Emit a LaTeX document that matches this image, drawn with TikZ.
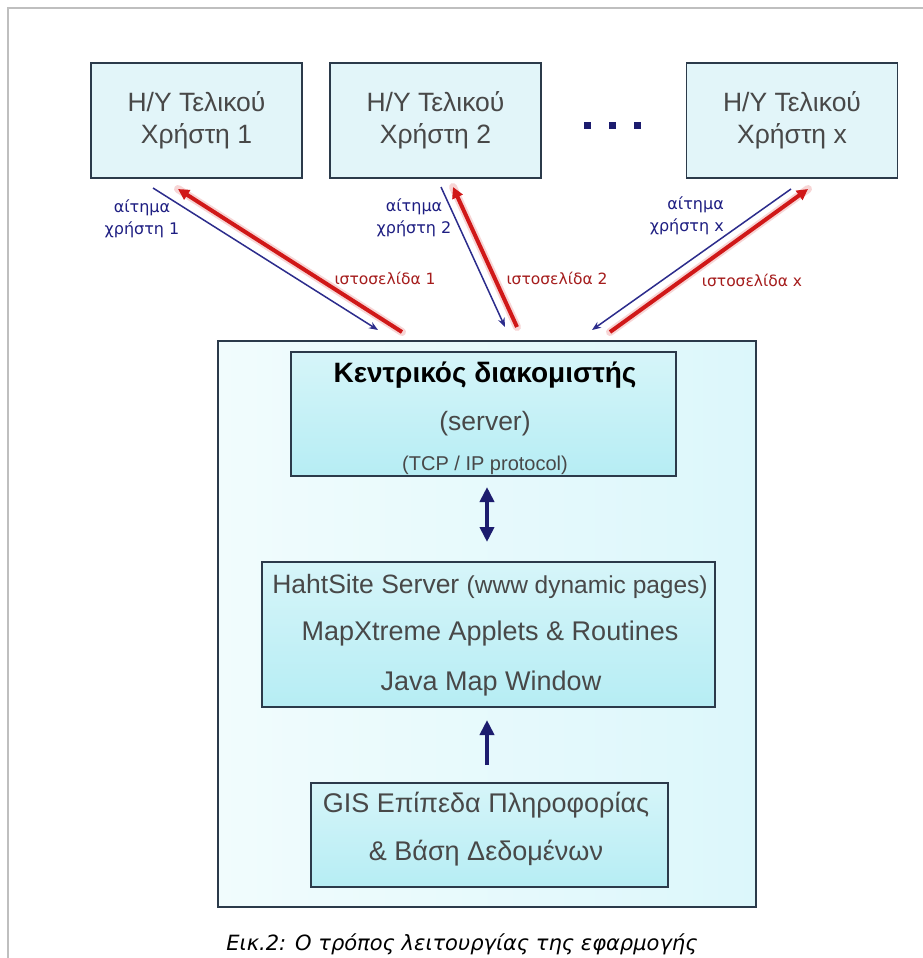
\documentclass[tikz,border=0pt]{standalone}
\usepackage{fontspec}
\setmainfont{Liberation Sans}
\newfontfamily\lblfont{DejaVu Sans}
\newfontfamily\capfont{DejaVu Sans}
\usetikzlibrary{arrows.meta}
\definecolor{edge}{HTML}{2B3A4A}
\definecolor{userfill}{HTML}{E2F5F9}
\definecolor{innertop}{HTML}{D6F5F9}
\definecolor{innerbot}{HTML}{B6EDF4}
\definecolor{bigleft}{HTML}{F1FCFD}
\definecolor{bigright}{HTML}{DCF7FB}
\definecolor{txtgray}{HTML}{484848}
\definecolor{reqblue}{HTML}{2C2C8C}
\definecolor{respred}{HTML}{D01818}
\definecolor{lblblue}{HTML}{1E1E82}
\definecolor{lblred}{HTML}{A51C1C}
\definecolor{navy}{HTML}{1C1C6E}
\tikzset{
  userbox/.style={draw=edge, line width=1.5pt, fill=userfill, minimum width=211pt,
    minimum height=115pt, inner sep=0pt, align=center, text=txtgray,
    font=\fontsize{26.5}{32}\selectfont},
  innerbox/.style={draw=edge, line width=1.5pt, top color=innertop, bottom color=innerbot,
    inner sep=0pt},
  bigbox/.style={draw=edge, line width=1.5pt, left color=bigleft, right color=bigright,
    inner sep=0pt},
  boxtext/.style={anchor=base, text=txtgray, inner sep=0pt, font=\fontsize{27}{30}\selectfont},
  dotsq/.style={fill=navy, minimum size=7pt, inner sep=0pt},
  reqline/.style={draw=reqblue, line width=1.5pt, -{Stealth[length=9pt,width=7pt]}},
  resphalo/.style={draw=respred!18, line width=8pt, line cap=round},
  respline/.style={draw=respred, line width=4pt, -{Triangle[length=11pt,width=11pt]}},
  reqlabel/.style={text=lblblue, inner sep=0pt, font=\lblfont\fontsize{16}{22}\selectfont},
  resplabel/.style={text=lblred, inner sep=0pt, font=\lblfont\fontsize{15.5}{22}\selectfont},
  bigarrow/.style={draw=navy, line width=4.5pt},
}
\begin{document}
\begin{tikzpicture}[x=1pt,y=-1pt]
\useasboundingbox (0,0) rectangle (923,958);
\fill[white] (0,0) rectangle (923,958);
\draw[black!25, line width=2pt] (8,958) -- (8,8) -- (923,8);

% user boxes
\node[userbox] (u1) at (196.5,120.5) {H/Y Τελικού\\Χρήστη 1};
\node[userbox] (u2) at (435.5,120.5) {H/Y Τελικού\\Χρήστη 2};
\node[userbox] (ux) at (792,120.5) {H/Y Τελικού\\Χρήστη x};
\node[dotsq] (d1) at (587,125) {};
\node[dotsq] (d2) at (612,125) {};
\node[dotsq] (d3) at (637,125) {};

% big box and inner boxes
\node[bigbox, minimum width=538pt, minimum height=566pt] (big) at (487,624) {};
\node[innerbox, minimum width=385pt, minimum height=124pt] (srv) at (483.5,414) {};
\node[innerbox, minimum width=453pt, minimum height=145pt] (hs) at (488.5,634.5) {};
\node[innerbox, minimum width=357pt, minimum height=104pt] (gis) at (489.5,835) {};

% server texts
\node[anchor=base, inner sep=0pt, font=\bfseries\fontsize{28}{30}\selectfont] (srvt1) at (485,382) {Κεντρικός διακομιστής};
\node[boxtext, font=\fontsize{26.5}{30}\selectfont] (srvt2) at (485,430) {(server)};
\node[boxtext, font=\fontsize{20}{24}\selectfont] (srvt3) at (485,470) {(TCP / IP protocol)};

% HahtSite texts
\node[boxtext, font=\fontsize{26.5}{30}\selectfont] (hst1) at (490,593) {HahtSite Server {\fontsize{24.5}{30}\selectfont(www dynamic pages)}};
\node[boxtext] (hst2) at (490,640) {MapXtreme Applets \& Routines};
\node[boxtext] (hst3) at (491,690) {Java Map Window};

% GIS texts
\node[boxtext] (gist1) at (486,812) {GIS Επίπεδα Πληροφορίας};
\node[boxtext] (gist2) at (486,860) {\& Βάση Δεδομένων};

% internal arrows
\coordinate (da1) at (487,487);
\coordinate (da2) at (487,542);
\draw[bigarrow, {Triangle[length=15pt,width=14pt]}-{Triangle[length=15pt,width=14pt]}] (da1) -- (da2);
\coordinate (ua1) at (487,765);
\coordinate (ua2) at (487,720);
\draw[bigarrow, -{Triangle[length=15pt,width=14pt]}] (ua1) -- (ua2);

% connector end points
\coordinate (q1s) at (153,188);  \coordinate (q1e) at (378,330);
\coordinate (r1s) at (402,332);  \coordinate (r1e) at (178,189);
\coordinate (q2s) at (441,187);  \coordinate (q2e) at (505,327);
\coordinate (r2s) at (517,327);  \coordinate (r2e) at (453,187);
\coordinate (qxs) at (791,189);  \coordinate (qxe) at (592,330);
\coordinate (rxs) at (610,332);  \coordinate (rxe) at (808,189);

\draw[resphalo] (r1s) -- (r1e);
\draw[resphalo] (r2s) -- (r2e);
\draw[resphalo] (rxs) -- (rxe);
\draw[respline] (r1s) -- (r1e);
\draw[respline] (r2s) -- (r2e);
\draw[respline] (rxs) -- (rxe);
\draw[reqline] (q1s) -- (q1e);
\draw[reqline] (q2s) -- (q2e);
\draw[reqline] (qxs) -- (qxe);

% labels
\node[reqlabel, align=center] (l1) at (142,219) {αίτημα\\χρήστη 1};
\node[reqlabel, align=center] (l2) at (414,218) {αίτημα\\χρήστη 2};
\node[reqlabel, align=right, anchor=east] (lx) at (724,216) {αίτημα\\χρήστη x};
\node[resplabel] (p1) at (385,278) {ιστοσελίδα 1};
\node[resplabel] (p2) at (557,278) {ιστοσελίδα 2};
\node[resplabel] (px) at (752,280) {ιστοσελίδα x};

% caption
\node[inner sep=0pt, font=\capfont\itshape\fontsize{21}{26}\selectfont] (cap) at (462,944) {Εικ.2: Ο τρόπος λειτουργίας της εφαρμογής};
\end{tikzpicture}
\end{document}
